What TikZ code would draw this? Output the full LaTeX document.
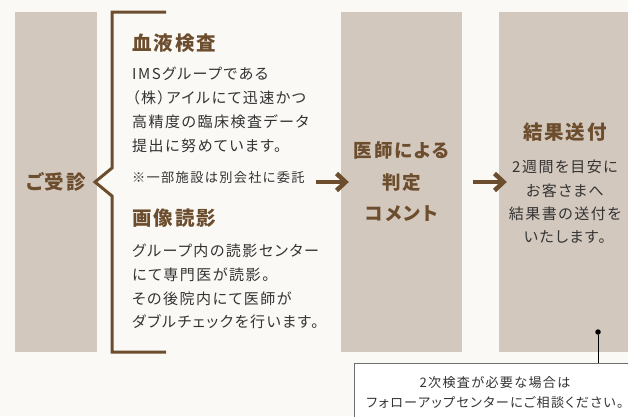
\documentclass[tikz,border=0pt]{standalone}
\usepackage{fontspec}
\setmainfont[LetterSpace=10, RawFeature={+palt}]{Noto Sans CJK JP}
\usetikzlibrary{positioning,calc,arrows.meta}
\definecolor{bgcream}{RGB}{250,249,246}
\definecolor{boxtan}{RGB}{211,200,190}
\definecolor{darkbrown}{RGB}{108,77,45}
\definecolor{inkgray}{RGB}{51,51,51}
\definecolor{framegray}{RGB}{110,110,110}

\tikzset{
    stepbox/.style={fill=boxtan, inner sep=0pt, minimum height=340pt},
    headtext/.style={text=darkbrown, font=\fontsize{19.5}{24}\selectfont\bfseries, anchor=west, inner sep=0pt},
    bodytext/.style={text=inkgray, font=\fontsize{15}{23.8}\selectfont, align=left, anchor=west, inner sep=0pt},
    flowarrow/.style={draw=darkbrown, line width=4.5pt, -{Straight Barb[length=9pt, width=17pt]}},
    bracket/.style={draw=darkbrown, line width=3pt, miter limit=20},
}

\begin{document}
\begin{tikzpicture}[x=1pt, y=-1pt]
    \useasboundingbox (0,0) rectangle (628,416);
    \clip (0,0) rectangle (628,416);
    \fill[bgcream] (0,0) rectangle (628,416);
    \begin{scope}
        % Steps
        \node[stepbox, minimum width=82pt, text=darkbrown, font=\fontsize{19.5}{24}\selectfont\bfseries] (visit) at (56,182) {ご受診};
        \node[stepbox, minimum width=121pt, text=darkbrown, align=center, font=\fontsize{18.5}{31.5}\selectfont\bfseries] (judge) at (401.5,182) {医師による\\判定\\コメント};
        \node[stepbox, minimum width=132pt] (report) at (565,182) {};
        % Bracket
        \draw[bracket] (166,12) -- (112,12) -- (112,168) -- (95,182) -- (112,196) -- (112,352) -- (166,352);
        % Blood test
        \node[headtext] (blood) at (132,43) {血液検査};
        \node[bodytext] (bloodnote) at (132,110) {IMSグループである\\（株）アイルにて迅速かつ\\高精度の臨床検査データ\\提出に努めています。};
        \node[bodytext, font=\fontsize{13.2}{16}\selectfont] (outsource) at (132,177) {※一部施設は別会社に委託};
        % Imaging
        \node[headtext] (imaging) at (132,218) {画像読影};
        \node[bodytext] (imagingnote) at (132,286.5) {グループ内の読影センター\\にて専門医が読影。\\その後院内にて医師が\\ダブルチェックを行います。};
        % Result
        \node[headtext, anchor=center] (sendhead) at ($(report.center)+(0,-50)$) {結果送付};
        \node[bodytext, align=center, anchor=center, font=\fontsize{15}{23.3}\selectfont] (sendnote) at ($(report.center)+(0,20)$) {2週間を目安に\\お客さまへ\\結果書の送付を\\いたします。};
        % Arrows
        \coordinate (arrow1) at (316,182);
        \draw[flowarrow] (arrow1) -- ([xshift=8pt]judge.west);
        \coordinate (arrow2) at (473,182);
        \draw[flowarrow] (arrow2) -- ([xshift=8pt]report.west);
        % Callout
        \node[draw=framegray, line width=0.8pt, fill=white, minimum width=284pt, minimum height=66pt] (callout) at (496,396) {};
        \node[text=inkgray, align=center, font=\fontsize{13.1}{20}\selectfont, inner sep=0pt] (calltxt) at (495,392) {2次検査が必要な場合は\\フォローアップセンターにご相談ください。};
        \node[circle, fill=black, inner sep=0pt, minimum size=5.5pt] (pin) at (598,332) {};
        \draw[line width=1pt] (pin) -- (pin |- callout.north);
    \end{scope}
\end{tikzpicture}
\end{document}
